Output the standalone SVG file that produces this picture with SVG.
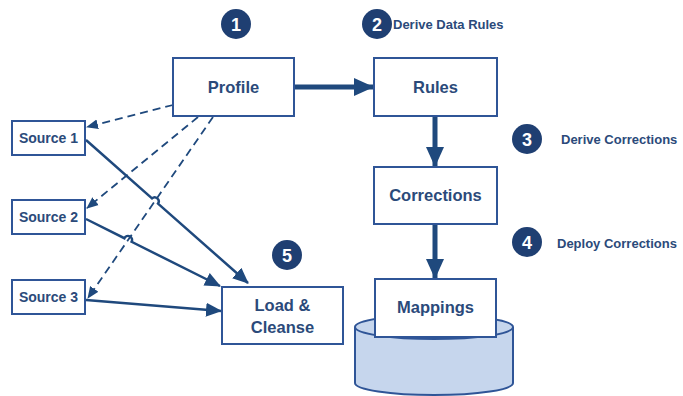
<svg xmlns="http://www.w3.org/2000/svg" width="683" height="396" viewBox="0 0 683 396">
<style>
.box{fill:#fff;stroke:#2f5597;stroke-width:2}
.lbl{font-family:"Liberation Sans",Arial,sans-serif;font-weight:bold;fill:#2b4a7a;text-anchor:middle}
.big{font-size:16.5px}
.sm{font-size:14px}
.badge{fill:#1f3f72}
.num{font-family:"Liberation Sans",Arial,sans-serif;font-weight:bold;font-size:18px;fill:#fff;text-anchor:middle}
.cap{font-family:"Liberation Sans",Arial,sans-serif;font-weight:bold;font-size:13px;fill:#2b4a7a}
.thick{stroke:#1f497d;stroke-width:5;fill:none}
.solid{stroke:#1f497d;stroke-width:2.5;fill:none}
.dash{stroke:#1f497d;stroke-width:1.8;fill:none;stroke-dasharray:8 5}
</style>
<defs>
<marker id="ah" markerUnits="userSpaceOnUse" markerWidth="16" markerHeight="16" viewBox="0 0 16 16" refX="15" refY="8" orient="auto">
<path d="M0,1 L16,8 L0,15 Z" fill="#1f497d"/>
</marker>
<marker id="ahb" markerUnits="userSpaceOnUse" markerWidth="20" markerHeight="20" viewBox="0 0 20 20" refX="19" refY="10" orient="auto">
<path d="M0,1 L20,10 L0,19 Z" fill="#1f497d"/>
</marker>
<marker id="ahs" markerUnits="userSpaceOnUse" markerWidth="12" markerHeight="12" viewBox="0 0 12 12" refX="11" refY="6" orient="auto">
<path d="M0,1 L12,6 L0,11 Z" fill="#1f497d"/>
</marker>
</defs>

<g id="mappings-db">
<path d="M355,327 L355,383 A79,12 0 0 0 513,383 L513,327" fill="#c6d6ed" stroke="#2f5597" stroke-width="2"/>
<ellipse cx="434" cy="327" rx="79" ry="12" fill="#c6d6ed" stroke="#2f5597" stroke-width="2"/>
</g>

<g id="connectors">
<path class="thick" d="M294,87 L373,87" marker-end="url(#ahb)"/>
<path class="thick" d="M435,116 L435,166" marker-end="url(#ahb)"/>
<path class="thick" d="M435,224 L435,278" marker-end="url(#ahb)"/>
<path class="dash" d="M173,105 L87,127" marker-end="url(#ahs)"/>
<path class="dash" d="M198,117 L87,208" marker-end="url(#ahs)"/>
<path class="dash" d="M213,117 L88,298" marker-end="url(#ahs)"/>
<path class="solid" d="M86,140 L152,198.4 A4,4 0 0 1 158,203.6 L248,283" marker-end="url(#ah)"/>
<path class="solid" d="M86,219 L124.4,238.2 A4,4 0 0 1 131.6,241.8 L220,286" marker-end="url(#ah)"/>
<path class="solid" d="M86,300 L221,311" marker-end="url(#ah)"/>
</g>

<g id="profile"><rect class="box" x="173" y="58" width="121" height="58"/><text class="lbl big" x="233.5" y="93">Profile</text></g>
<g id="rules"><rect class="box" x="374" y="58" width="123" height="58"/><text class="lbl big" x="435.5" y="93">Rules</text></g>
<g id="corrections"><rect class="box" x="374" y="167" width="123" height="57"/><text class="lbl big" x="435.5" y="201">Corrections</text></g>
<g id="mappings"><rect class="box" x="375" y="279" width="121" height="58"/><text class="lbl big" x="435.5" y="313">Mappings</text></g>
<g id="source1"><rect class="box" x="12" y="121" width="73" height="34"/><text class="lbl sm" x="48.5" y="143">Source 1</text></g>
<g id="source2"><rect class="box" x="12" y="200" width="73" height="34"/><text class="lbl sm" x="48.5" y="222">Source 2</text></g>
<g id="source3"><rect class="box" x="12" y="280" width="73" height="34"/><text class="lbl sm" x="48.5" y="302">Source 3</text></g>
<g id="load-cleanse"><rect class="box" x="222" y="287" width="121" height="57"/><text class="lbl big" x="282.5" y="311">Load &amp;</text><text class="lbl big" x="282.5" y="333">Cleanse</text></g>

<g id="step1"><circle class="badge" cx="236" cy="24" r="15"/><text class="num" x="236" y="30.5">1</text></g>
<g id="step2"><circle class="badge" cx="377" cy="24" r="15"/><text class="num" x="377" y="30.5">2</text><text class="cap" x="393" y="28.5">Derive Data Rules</text></g>
<g id="step3"><circle class="badge" cx="527" cy="139" r="15"/><text class="num" x="527" y="145.5">3</text><text class="cap" x="561" y="143.5">Derive Corrections</text></g>
<g id="step4"><circle class="badge" cx="527" cy="242" r="15"/><text class="num" x="527" y="248.5">4</text><text class="cap" x="557" y="247.5">Deploy Corrections</text></g>
<g id="step5"><circle class="badge" cx="287" cy="255" r="15"/><text class="num" x="287" y="261.5">5</text></g>
</svg>
